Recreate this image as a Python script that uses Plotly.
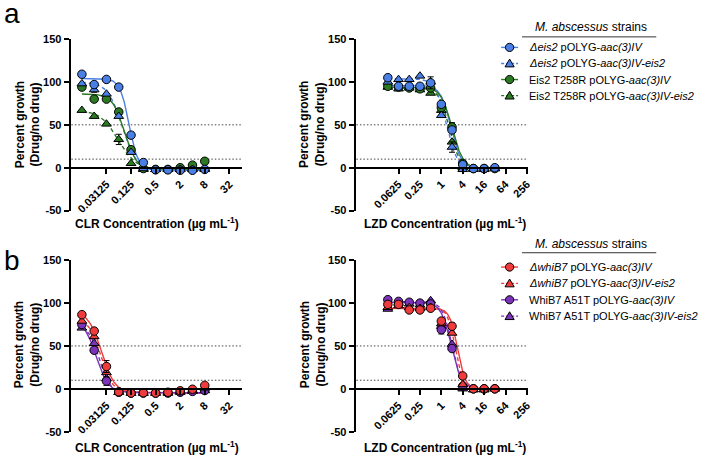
import numpy as np
import plotly.graph_objects as go

W, H = 706, 463
FONT = "Liberation Sans, Arial, sans-serif"

# ---------------- data ----------------
clr_conc = [0.0078125, 0.015625, 0.03125, 0.0625, 0.125, 0.25, 0.5, 1, 2, 4, 8]
lzd_conc = [0.03125, 0.0625, 0.125, 0.25, 0.5, 1, 2, 4, 8, 16, 32]

clr_tickvals = [0.03125, 0.125, 0.5, 2, 8, 32]
clr_ticktext = ["0.03125", "0.125", "0.5", "2", "8", "32"]
lzd_tickvals = [0.0625, 0.25, 1, 4, 16, 64, 256]
lzd_ticktext = ["0.0625", "0.25", "1", "4", "16", "64", "256"]
y_tickvals = [-50, 0, 50, 100, 150]
y_ticktext = ["-50", "0", "50", "100", "150"]
ref_lines = [50, 10]

names_a = ["<i>Δeis2</i> pOLYG-<i>aac(3)IV</i>",
           "<i>Δeis2</i> pOLYG-<i>aac(3)IV-eis2</i>",
           "Eis2 T258R pOLYG-<i>aac(3)IV</i>",
           "Eis2 T258R pOLYG-<i>aac(3)IV-eis2</i>"]
names_b = ["<i>ΔwhiB7</i> pOLYG-<i>aac(3)IV</i>",
           "<i>ΔwhiB7</i> pOLYG-<i>aac(3)IV-eis2</i>",
           "WhiB7 A51T pOLYG-<i>aac(3)IV</i>",
           "WhiB7 A51T pOLYG-<i>aac(3)IV-eis2</i>"]

# panel a, CLR
a_clr_eis2 = [109, 97, 103, 94, 38, 6, -2.5, -2.5, -3, -3, -2]
a_clr_eis2_eis2 = [98, 91, 86, 60, 18, -1, -2, -2, -2, -2, -2]
a_clr_t258r = [94, 80, 80, 65, 21, -1, -2, -2, 0, 3, 7.5]
a_clr_t258r_eis2 = [67, 60, 51, 33, 5, -2, -2, -2, -2, -1, -1]
a_clr_err = [[0, 0, 0, 0, 3, 0, 0, 0, 0, 0, 0],
             [0, 3, 0, 0, 0, 0, 0, 0, 0, 0, 0],
             [0, 0, 0, 0, 0, 0, 0, 0, 0, 0, 0],
             [0, 0, 0, 6, 0, 0, 0, 0, 0, 0, 0]]
a_clr_fit_top = [104, 100, 86, 67]
a_clr_fit_bottom = [-3, -2, -1.5, -2]
a_clr_fit_log2ic50 = [-3.16, -3.75, -3.55, -4.05]
a_clr_fit_hill = [3.9, 2.5, 3.0, 2.0]

# panel a, LZD
a_lzd_eis2 = [105, 95, 95, 95, 99, 74, 44, 3.5, -1, -1, 0]
a_lzd_eis2_eis2 = [100, 103, 103, 107, 100, 61, 24, -2, -2, -2, -1]
a_lzd_t258r = [95, 94, 93, 92, 93, 70, 47.5, 5, -1, -1, -1]
a_lzd_t258r_eis2 = [94, 92, 93, 91, 87, 67, 30, 0, -1, -2, -1]
a_lzd_err = [[0, 0, 0, 0, 7, 0, 0, 0, 0, 0, 0],
             [0, 0, 0, 0, 0, 0, 6, 0, 0, 0, 0],
             [0, 0, 0, 0, 0, 0, 5, 0, 0, 0, 0],
             [0, 0, 0, 0, 0, 0, 0, 0, 0, 0, 0]]
a_lzd_fit_top = [96, 104, 94, 93]
a_lzd_fit_bottom = [-1, -2, -1, -1]
a_lzd_fit_log2ic50 = [0.9, 0.45, 1.0, 0.75]
a_lzd_fit_hill = [3.0, 2.8, 2.8, 3.0]

# panel b, CLR
b_clr_whib7 = [86.5, 67.4, 26, -3.5, -5, -4.7, -5, -4, -2.3, -0.5, 4]
b_clr_whib7_eis2 = [79, 61, 19, -4, -5, -5, -5, -4.5, -3, -2, 1]
b_clr_a51t = [75, 45, 9, -4, -5, -5, -5, -5, -4, -3, -2]
b_clr_a51t_eis2 = [71, 53, 12, -4, -5, -5, -5, -5, -4, -3, -2]
b_clr_err = [[0, 3, 7, 0, 0, 0, 0, 0, 0, 0, 0],
             [0, 0, 0, 0, 0, 0, 0, 0, 0, 0, 0],
             [0, 0, 5, 0, 0, 0, 0, 0, 0, 0, 0],
             [0, 0, 0, 0, 0, 0, 0, 0, 0, 0, 0]]
b_clr_fit_top = [90, 82, 80, 74]
b_clr_fit_bottom = [-4.5, -4.5, -4.5, -4.5]
b_clr_fit_log2ic50 = [-5.39, -5.46, -5.83, -5.57]
b_clr_fit_hill = [2.74, 3.03, 2.9, 3.35]

# panel b, LZD
b_lzd_whib7 = [98.5, 98.5, 92, 92, 94, 79, 73, 15, 0, 0, 0]
b_lzd_whib7_eis2 = [95, 97, 95, 94, 95, 76, 65, 5, -1, -1, 0]
b_lzd_a51t = [104, 102, 101, 100, 99, 69, 47, 3, 0, 0, 0]
b_lzd_a51t_eis2 = [93, 100, 99, 98, 103, 73, 52, 0, -1, -1, 0]
b_lzd_err = [[0, 0, 0, 0, 0, 0, 4, 0, 0, 0, 0],
             [0, 0, 0, 0, 0, 0, 0, 0, 0, 0, 0],
             [0, 0, 0, 0, 0, 5, 0, 0, 0, 0, 0],
             [0, 0, 0, 0, 0, 0, 0, 0, 0, 0, 0]]
b_lzd_fit_top = [94, 95, 101, 102]
b_lzd_fit_bottom = [0, -1, 0, -1]
b_lzd_fit_log2ic50 = [1.5, 1.3, 0.93, 1.0]
b_lzd_fit_hill = [4.0, 4.0, 3.0, 3.2]

# ---------------- styles ----------------
BLUE, GREEN, RED, PURPLE = "#4a7fe6", "#2b7a23", "#ef3b3b", "#7b34b9"
colors_a = [BLUE, BLUE, GREEN, GREEN]
colors_b = [RED, RED, PURPLE, PURPLE]
symbols = ["circle", "triangle-up", "circle", "triangle-up"]
DASH = "4px,3px"
dashes = ["solid", DASH, "solid", DASH]


def px_x(p):
    return p / W


def px_y(p):
    return 1 - p / H


LOG2 = np.log10(2)

# subplot geometry (pixels)
x_dom_left = [px_x(70), px_x(243)]
x_dom_right = [px_x(356.7), px_x(531)]
y_dom_top = [px_y(210), px_y(34)]
y_dom_bot = [px_y(437), px_y(261)]

panels = [
    dict(ax="", conc=clr_conc, data=[a_clr_eis2, a_clr_eis2_eis2, a_clr_t258r, a_clr_t258r_eis2],
         err=a_clr_err, fit=(a_clr_fit_top, a_clr_fit_bottom, a_clr_fit_log2ic50, a_clr_fit_hill),
         colors=colors_a, names=names_a, xd=x_dom_left, yd=y_dom_top, xr=[-8, 6],
         tv=clr_tickvals, tt=clr_ticktext),
    dict(ax="2", conc=lzd_conc, data=[a_lzd_eis2, a_lzd_eis2_eis2, a_lzd_t258r, a_lzd_t258r_eis2],
         err=a_lzd_err, fit=(a_lzd_fit_top, a_lzd_fit_bottom, a_lzd_fit_log2ic50, a_lzd_fit_hill),
         colors=colors_a, names=names_a, xd=x_dom_right, yd=y_dom_top, xr=[-8.1, 8.1],
         tv=lzd_tickvals, tt=lzd_ticktext),
    dict(ax="3", conc=clr_conc, data=[b_clr_whib7, b_clr_whib7_eis2, b_clr_a51t, b_clr_a51t_eis2],
         err=b_clr_err, fit=(b_clr_fit_top, b_clr_fit_bottom, b_clr_fit_log2ic50, b_clr_fit_hill),
         colors=colors_b, names=names_b, xd=x_dom_left, yd=y_dom_bot, xr=[-8, 6],
         tv=clr_tickvals, tt=clr_ticktext),
    dict(ax="4", conc=lzd_conc, data=[b_lzd_whib7, b_lzd_whib7_eis2, b_lzd_a51t, b_lzd_a51t_eis2],
         err=b_lzd_err, fit=(b_lzd_fit_top, b_lzd_fit_bottom, b_lzd_fit_log2ic50, b_lzd_fit_hill),
         colors=colors_b, names=names_b, xd=x_dom_right, yd=y_dom_bot, xr=[-8.1, 8.1],
         tv=lzd_tickvals, tt=lzd_ticktext),
]

fig = go.Figure()
layout = {}
shapes = []
annotations = []

tickfont = dict(family=FONT, size=11, color="black", weight="bold")

for p in panels:
    xa, ya = "x" + p["ax"], "y" + p["ax"]
    conc = np.array(p["conc"], dtype=float)
    top, bottom, lic, hill = p["fit"]
    # fitted four-parameter logistic curves
    xs = np.logspace(np.log2(conc[0]), np.log2(conc[-1]), 240, base=2)
    for i in range(4):
        ys = bottom[i] + (top[i] - bottom[i]) / (1 + (xs / 2 ** lic[i]) ** hill[i])
        fig.add_trace(go.Scatter(x=xs, y=ys, mode="lines", xaxis=xa, yaxis=ya,
                                 line=dict(color=p["colors"][i], width=1.4, dash=dashes[i]),
                                 showlegend=False, hoverinfo="skip"))
    # data points (first series drawn last -> on top)
    for i in [3, 2, 1, 0]:
        fig.add_trace(go.Scatter(x=conc, y=p["data"][i], mode="markers", xaxis=xa, yaxis=ya,
                                 name=p["names"][i], showlegend=False,
                                 marker=dict(symbol=symbols[i], size=8.5,
                                             color=p["colors"][i],
                                             line=dict(color="black", width=1)),
                                 error_y=dict(type="data", array=p["err"][i], visible=True,
                                              color="black", thickness=1, width=3)))
    yd = p["yd"]
    zero_pos = yd[0] + (0 - (-50)) / 200 * (yd[1] - yd[0])
    key = p["ax"]
    layout["xaxis" + key] = dict(
        type="log", domain=p["xd"], range=[p["xr"][0] * LOG2, p["xr"][1] * LOG2],
        tickmode="array", tickvals=p["tv"], ticktext=p["tt"], tickangle=-45,
        anchor="free", position=zero_pos, showline=True, linecolor="black", linewidth=2,
        ticks="outside", ticklen=5, tickwidth=1.8, tickcolor="black",
        showgrid=False, zeroline=False, tickfont=tickfont)
    layout["yaxis" + key] = dict(
        domain=yd, range=[-50, 150], tickmode="array", tickvals=y_tickvals, ticktext=y_ticktext,
        anchor="free", position=p["xd"][0], showline=True, linecolor="black", linewidth=2,
        ticks="outside", ticklen=5, tickwidth=1.8, tickcolor="black",
        showgrid=False, zeroline=False, tickfont=tickfont)
    for rv in ref_lines:
        shapes.append(dict(type="line", xref=xa + " domain", yref=ya, x0=0.01, x1=1,
                           y0=rv, y1=rv, line=dict(color="#444", width=1, dash="1.5px,2px"),
                           layer="below"))

# axis titles
ytitle = "Percent growth<br>(Drug/no drug)"
for (cx, cy) in [(27.5, 122), (314, 122), (27.5, 348), (315, 348)]:
    annotations.append(dict(text=ytitle, x=px_x(cx), y=px_y(cy), xref="paper", yref="paper",
                            textangle=-90, showarrow=False, xanchor="center", yanchor="middle",
                            font=dict(family=FONT, size=12, color="black", weight="bold")))
xt_clr = "CLR Concentration (µg mL<sup>-1</sup>)"
xt_lzd = "LZD Concentration (µg mL<sup>-1</sup>)"
for (t, cx, cy) in [(xt_clr, 158, 223), (xt_lzd, 448, 223), (xt_clr, 158, 453), (xt_lzd, 448, 453)]:
    annotations.append(dict(text=t, x=px_x(cx), y=px_y(cy), xref="paper", yref="paper",
                            showarrow=False, xanchor="center", yanchor="middle",
                            font=dict(family=FONT, size=12, color="black", weight="bold")))

# panel letters
for (t, cx, cy) in [("a", 2, 8), ("b", 2, 261)]:
    annotations.append(dict(text=t, x=px_x(cx), y=px_y(cy), xref="paper", yref="paper",
                            showarrow=False, xanchor="left", yanchor="middle",
                            font=dict(family=FONT, size=28, color="black")))

# custom legends
legend_title = "<i>M. abscessus</i> strains"
for (names, cols, ty, uy, y0, dy) in [(names_a, colors_a, 22, 31.7, 42.5, 16.5),
                                      (names_b, colors_b, 244, 253.3, 268, 16.8)]:
    annotations.append(dict(text=legend_title, x=px_x(594), y=px_y(ty), xref="paper", yref="paper",
                            showarrow=False, xanchor="center", yanchor="middle",
                            font=dict(family=FONT, size=12, color="black")))
    shapes.append(dict(type="line", xref="paper", yref="paper", x0=px_x(525), x1=px_x(660),
                       y0=px_y(uy), y1=px_y(uy), line=dict(color="#333", width=1)))
    for i in range(4):
        yy = y0 + i * dy
        shapes.append(dict(type="line", xref="paper", yref="paper", x0=px_x(504), x1=px_x(521),
                           y0=px_y(yy), y1=px_y(yy),
                           line=dict(color=cols[i], width=1.4, dash="solid" if i % 2 == 0 else "3px,2px")))
        cx = 512.5
        if i % 2 == 0:
            shapes.append(dict(type="circle", xref="paper", yref="paper",
                               x0=px_x(cx - 4.2), x1=px_x(cx + 4.2), y0=px_y(yy - 4.2), y1=px_y(yy + 4.2),
                               fillcolor=cols[i], line=dict(color="black", width=1)))
        else:
            path = "M {:.5f},{:.5f} L {:.5f},{:.5f} L {:.5f},{:.5f} Z".format(
                px_x(cx), px_y(yy - 4.5), px_x(cx + 4.6), px_y(yy + 3.5), px_x(cx - 4.6), px_y(yy + 3.5))
            shapes.append(dict(type="path", xref="paper", yref="paper", path=path,
                               fillcolor=cols[i], line=dict(color="black", width=1)))
        annotations.append(dict(text=names[i], x=px_x(530), y=px_y(yy), xref="paper", yref="paper",
                                showarrow=False, xanchor="left", yanchor="middle",
                                font=dict(family=FONT, size=11, color="black")))

fig.update_layout(width=W, height=H, margin=dict(l=0, r=0, t=0, b=0),
                  paper_bgcolor="white", plot_bgcolor="white", showlegend=False,
                  shapes=shapes, annotations=annotations, **layout)

fig.write_html("out.html")
